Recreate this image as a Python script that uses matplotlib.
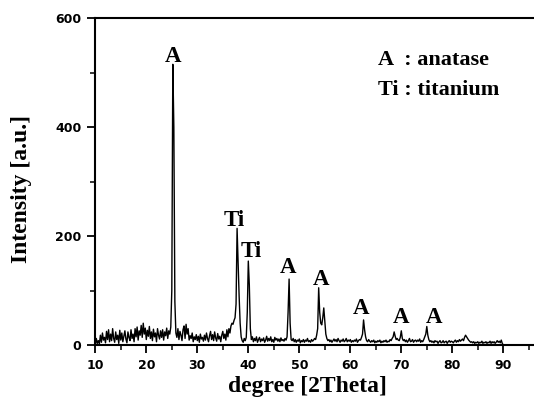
import numpy as np
import matplotlib
matplotlib.use("Agg")
import matplotlib.pyplot as plt
from matplotlib.ticker import MultipleLocator

# XRD pattern, 2Theta from 10 to 90 deg in 0.2 deg steps
intensity = [
    0, 12, 3, 8, 2,        # 10
    18, 5, 22, 9, 14,      # 11
    4, 25, 10, 28, 6,      # 12
    20, 8, 30, 12, 5,      # 13
    24, 10, 18, 3, 27,     # 14
    9, 22, 6, 16, 26,      # 15
    11, 4, 24, 14, 8,      # 16
    28, 12, 20, 6, 30,     # 17
    15, 33, 9, 26, 18,     # 18
    36, 14, 40, 20, 31,    # 19
    10, 27, 16, 34, 12,    # 20
    24, 8, 29, 15, 22,     # 21
    6, 30, 18, 11, 26,     # 22
    14, 28, 9, 24, 17,     # 23
    31, 12, 26, 20, 33,    # 24
    100, 515, 400, 80, 22, # 25
    14, 30, 10, 25, 18,    # 26
    8, 28, 35, 12, 38,     # 27
    20, 30, 9, 17, 12,     # 28
    22, 6, 15, 10, 19,     # 29
    8, 16, 5, 20, 11,      # 30
    14, 7, 18, 9, 22,      # 31
    12, 6, 17, 25, 10,     # 32
    19, 8, 24, 13, 7,      # 33
    21, 11, 16, 6, 18,     # 34
    25, 12, 20, 9, 28,     # 35
    15, 30, 22, 35, 40,    # 36
    38, 45, 50, 75, 214,   # 37
    150, 90, 40, 15, 8,    # 38
    5, 12, 8, 14, 60,      # 39
    154, 110, 30, 10, 15,  # 40
    6, 12, 8, 15, 5,       # 41
    10, 14, 6, 11, 8,      # 42
    13, 5, 9, 16, 7,       # 43
    12, 8, 15, 6, 10,      # 44
    5, 14, 9, 12, 7,       # 45
    11, 6, 13, 8, 10,      # 46
    7, 12, 9, 15, 60,      # 47
    121, 40, 10, 8, 12,    # 48
    6, 10, 5, 9, 7,        # 49
    11, 4, 8, 6, 10,       # 50
    5, 9, 7, 12, 6,        # 51
    8, 5, 10, 7, 9,        # 52
    12, 10, 18, 30, 105,   # 53
    60, 40, 37, 50, 68,    # 54
    45, 20, 12, 8, 10,     # 55
    6, 9, 5, 8, 11,        # 56
    7, 10, 6, 12, 8,       # 57
    5, 9, 7, 11, 6,        # 58
    8, 12, 6, 9, 7,        # 59
    10, 5, 8, 6, 9,        # 60
    7, 11, 5, 8, 10,       # 61
    9, 14, 20, 46, 28,     # 62
    15, 8, 6, 10, 7,       # 63
    5, 8, 6, 9, 4,         # 64
    7, 5, 8, 6, 9,         # 65
    4, 7, 5, 8, 6,         # 66
    9, 5, 7, 6, 10,        # 67
    8, 12, 15, 24, 16,     # 68
    10, 12, 9, 8, 14,      # 69
    26, 12, 8, 10, 6,      # 70
    9, 5, 8, 12, 6,        # 71
    7, 10, 5, 8, 9,        # 72
    6, 9, 7, 11, 5,        # 73
    8, 6, 10, 15, 20,      # 74
    34, 18, 10, 6, 8,      # 75
    5, 7, 4, 8, 6,         # 76
    7, 3, 6, 8, 4,         # 77
    5, 8, 4, 6, 7,         # 78
    3, 6, 8, 5, 7,         # 79
    6, 4, 7, 9, 5,         # 80
    8, 6, 10, 7, 9,        # 81
    11, 8, 14, 18, 15,     # 82
    12, 9, 7, 5, 6,        # 83
    4, 6, 3, 5, 4,         # 84
    6, 3, 5, 4, 7,         # 85
    3, 5, 4, 6, 3,         # 86
    5, 4, 7, 3, 6,         # 87
    4, 6, 3, 5, 8,         # 88
    5, 7, 4, 9, 3,         # 89
    0,                     # 90
]
two_theta = np.linspace(10, 90, len(intensity))

# peak labels
peak_labels = ["A", "Ti", "Ti", "A", "A", "A", "A", "A"]
label_x = [25.2, 37.3, 40.5, 47.7, 54.25, 62.1, 69.9, 76.4]
label_y = [519, 218, 161, 132, 110, 57, 40, 40]

legend_lines = ["A  : anatase", "Ti : titanium"]

xticks = [10, 20, 30, 40, 50, 60, 70, 80, 90]
yticks = [0, 200, 400, 600]

W, H = 534, 398
fig = plt.figure(figsize=(W / 100, H / 100), dpi=100)
left, bottom, top = 95.3, 345, 18
ax = fig.add_axes([left / W, (H - bottom) / H, 1 - left / W, (bottom - top) / H])

ax.plot(two_theta, intensity, color="black", lw=1.0)
ax.set_xlim(10, 10 + (W - left) / 5.1)
ax.set_ylim(0, 600)
ax.set_xticks(xticks)
ax.set_yticks(yticks)
ax.xaxis.set_minor_locator(MultipleLocator(5))
ax.yaxis.set_minor_locator(MultipleLocator(100))

for s in ["left", "top", "bottom"]:
    ax.spines[s].set_linewidth(1.5)
ax.spines["right"].set_visible(False)

ax.tick_params(which="major", direction="out", length=6, width=1.3, pad=4)
ax.tick_params(which="minor", direction="out", length=3.5, width=1.1)
for lab in ax.get_xticklabels() + ax.get_yticklabels():
    lab.set_fontfamily("DejaVu Sans")
    lab.set_fontweight("bold")
    lab.set_fontsize(9)

serif = "Liberation Serif"
for t, x, y in zip(peak_labels, label_x, label_y):
    ax.text(x, y, t, ha="center", va="baseline", fontsize=16.5,
            fontweight="bold", family=serif)

ax.text(65.4, 514, legend_lines[0], ha="left", va="baseline", fontsize=16,
        fontweight="bold", family=serif)
ax.text(65.4, 459, legend_lines[1], ha="left", va="baseline", fontsize=16,
        fontweight="bold", family=serif)

fig.text(22 / W, (H - 189) / H, "Intensity [a.u.]", rotation=90, ha="center",
         va="center", fontsize=17, fontweight="bold", family=serif)
fig.text(307 / W, (H - 392) / H, "degree [2Theta]", ha="center", va="baseline",
         fontsize=17, fontweight="bold", family=serif)

fig.savefig("out.png", dpi=100)
